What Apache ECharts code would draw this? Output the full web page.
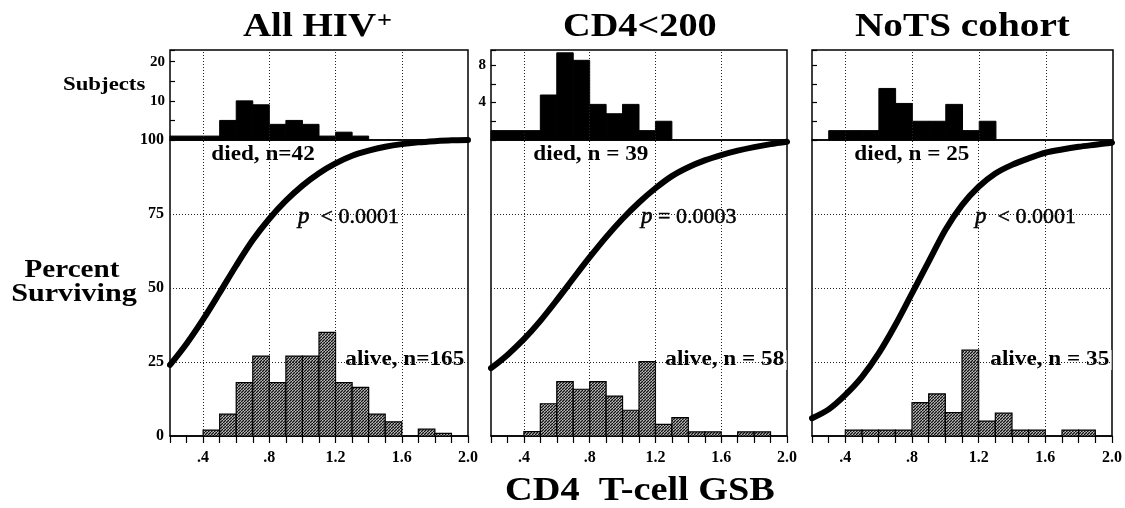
<!DOCTYPE html>
<html><head><meta charset="utf-8">
<script src="https://cdn.jsdelivr.net/npm/echarts@6/dist/echarts.min.js"></script>
<style>html,body{margin:0;padding:0;background:#fff}#c{width:1125px;height:508px}</style>
</head><body><div id="c"></div>
<script>
// ---- data ----
const panelTitles = ['All HIV', 'CD4<200', 'NoTS cohort'];
const binStarts = [0.2,0.3,0.4,0.5,0.6,0.7,0.8,0.9,1.0,1.1,1.2,1.3,1.4,1.5,1.6,1.7,1.8,1.9];
const binWidth = 0.1;
// died (top histograms, subjects)
const diedAll   = [1,1,1,5,10,9,4,5,4,1,2,1,0,0,0,0,0,0];
const diedCD4   = [1,1,1,4.8,9.3,8.5,3.8,2.8,3.8,1,2,0,0,0,0,0,0,0];
const diedNoTS  = [0,1,1,1,5.5,3.9,2,2,3.8,1,2,0,0,0,0,0,0,0];
// alive (bottom histograms, drawn on percent axis)
const aliveAll  = [0,0,2,7.4,18,27,18,27,27,35,18,16.4,7.4,4.8,0,2.3,0.9,0];
const aliveCD4  = [0,0,1.5,10.9,18.4,15.8,18.4,13.5,8.7,25.1,3.9,6.2,1.4,1.4,0,1.4,1.4,0];
const aliveNoTS = [0,0,2,2,2,2,11.3,14.2,7.9,29,5,7.7,2,2,0,2,2,0];
// survival curves (percent surviving vs CD4 T-cell GSB)
const curveX    = [0.2,0.3,0.4,0.5,0.6,0.7,0.8,0.9,1.0,1.1,1.2,1.3,1.4,1.5,1.6,1.7,1.8,1.9,2.0];
const survAll   = [24,31.2,39.4,48.4,57.6,66.2,73.4,79.5,84.6,88.8,92.1,94.7,96.4,97.7,98.6,99.2,99.6,99.9,100];
const survCD4   = [22.9,27.4,32.7,38.9,45.9,53.2,60.4,67.2,73.4,78.9,83.7,87.8,90.8,93.1,94.9,96.4,97.6,98.6,99.4];
const survNoTS  = [6,9,13.9,20,27.9,37.5,48.2,58.9,69.6,78,84.2,88.7,91.6,93.8,95.7,96.8,97.7,98.4,99.1];
// tick labels
const xTickLabels = ['.4','.8','1.2','1.6','2.0'];
const pctTickLabels = ['0','25','50','75','100'];
const subjTickLabelsAll = ['10','20'];
const subjTickLabelsCD4 = ['4','8'];
const annDied  = ['died, n=42', 'died, n = 39', 'died, n = 25'];
const annP     = [['p','  < 0.0001'], ['p',' = 0.0003'], ['p','  < 0.0001']];
const annAlive = ['alive, n=165', 'alive, n = 58', 'alive, n = 35'];

// ---- layout ----
const FONT = '"Liberation Serif", serif';
const L = [170, 491, 812], W = [298, 296, 301];
const TOP = 50, TOPH = 90, MTOP = 140, MH = 296;
const topMax = [23, 9.6, 9.6], topInt = [5, 2, 2];
const topLabels = [subjTickLabelsAll, subjTickLabelsCD4, []];
const died = [diedAll, diedCD4, diedNoTS];
const alive = [aliveAll, aliveCD4, aliveNoTS];
const surv = [survAll, survCD4, survNoTS];

// halftone pattern for the 'alive' bars
const pc = document.createElement('canvas'); pc.width = 3; pc.height = 3;
(function(){ const g = pc.getContext('2d'); g.fillStyle = '#777'; g.fillRect(0,0,3,3);
  g.fillStyle = '#111'; g.fillRect(0,0,1,1); g.fillRect(2,1,1,1); g.fillRect(1,2,1,1);
  g.fillStyle = '#bbb'; g.fillRect(1,0,1,1); g.fillRect(0,2,1,1); })();
const halftone = {image: pc, repeat: 'repeat'};

function bins(counts){
  const out=[];
  counts.forEach((c,i)=>{ if(c>0) out.push([binStarts[i], +(binStarts[i]+binWidth).toFixed(2), c]); });
  return out;
}
function rectRender(fill, stroke, lw){
  return function(params, api){
    const a = api.coord([api.value(0), api.value(2)]);
    const b = api.coord([api.value(1), 0]);
    return {type:'rect', shape:{x:a[0], y:a[1], width:b[0]-a[0], height:b[1]-a[1]},
      style:{fill:fill, stroke:stroke, lineWidth:lw}};
  };
}
const gridStyle = {color:'#222', width:1, type:[1,2]};

const grid=[], xAxis=[], yAxis=[], series=[];
for(let i=0;i<3;i++){
  grid.push({left:L[i], width:W[i], top:TOP, height:TOPH, show:true, borderColor:'#000', borderWidth:1.5, backgroundColor:'transparent'});
  grid.push({left:L[i], width:W[i], top:MTOP, height:MH, show:true, borderColor:'#000', borderWidth:1.5, backgroundColor:'transparent'});
  xAxis.push({gridIndex:2*i, type:'value', min:0.2, max:2.0, axisLine:{show:false}, axisTick:{show:false}, axisLabel:{show:false}, splitLine:{show:false}});
  xAxis.push({gridIndex:2*i+1, type:'value', min:0.2, max:2.0, interval:0.1,
    axisLine:{show:true, onZero:false, lineStyle:{color:'#000', width:1.5}},
    axisTick:{show:true, length:7, lineStyle:{color:'#000', width:1.2}},
    axisLabel:{show:true, margin:14, hideOverlap:false, showMinLabel:true, showMaxLabel:true,
      color:'#000', fontFamily:FONT, fontWeight:'bold', fontSize:16,
      formatter:function(v){ const k=Math.round(v*10); return (k%4===0 && k>=4) ? xTickLabels[k/4-1] : ''; }},
    splitLine:{show:false}});
  const tl = topLabels[i];
  yAxis.push({gridIndex:2*i, type:'value', min:0, max:topMax[i], interval:topInt[i],
    axisLine:{show:false}, axisTick:{show:true, inside:true, length:5, lineStyle:{color:'#000', width:1.2}},
    axisLabel:{show:tl.length>0, margin:5, color:'#000', fontFamily:FONT, fontWeight:'bold', fontSize:15, hideOverlap:false,
      formatter:function(v){ const s=String(Math.round(v*10)/10); return tl.indexOf(s)>=0 ? s : ''; }},
    splitLine:{show:false}});
  yAxis.push({gridIndex:2*i+1, type:'value', min:0, max:100, interval:25,
    axisLine:{show:false}, axisTick:{show:false},
    axisLabel:{show:i===0, margin:6, color:'#000', fontFamily:FONT, fontWeight:'bold', fontSize:16,
      formatter:function(v){ const s=String(Math.round(v)); return pctTickLabels.indexOf(s)>=0 ? s : ''; }},
    splitLine:{show:false}});
  series.push({type:'line', xAxisIndex:2*i, yAxisIndex:2*i, data:[], z:1, silent:true,
    markLine:{silent:true, symbol:'none', label:{show:false}, lineStyle:gridStyle, animation:false,
      data:[{xAxis:0.4},{xAxis:0.8},{xAxis:1.2},{xAxis:1.6}]}});
  series.push({type:'line', xAxisIndex:2*i+1, yAxisIndex:2*i+1, data:[], z:1, silent:true,
    markLine:{silent:true, symbol:'none', label:{show:false}, lineStyle:gridStyle, animation:false,
      data:[{xAxis:0.4},{xAxis:0.8},{xAxis:1.2},{xAxis:1.6},{yAxis:25},{yAxis:50},{yAxis:75}]}});
  series.push({type:'custom', xAxisIndex:2*i, yAxisIndex:2*i, z:3, data:bins(died[i]),
    renderItem:rectRender('#000','#000',1), animation:false});
  series.push({type:'custom', xAxisIndex:2*i+1, yAxisIndex:2*i+1, z:3, data:bins(alive[i]),
    renderItem:rectRender(halftone,'#000',1.2), animation:false});
  series.push({type:'line', xAxisIndex:2*i+1, yAxisIndex:2*i+1, z:5, smooth:0.3,
    symbol:'none', clip:false, lineStyle:{color:'#000', width:6, cap:'round', join:'round'},
    data:curveX.map((x,k)=>[x, surv[i][k]]), animation:false});
}

function txt(text, x, y, size, opts){
  opts = opts||{};
  return {type:'text', x:x, y:y, z:opts.z||100, scaleX:opts.sx||1, scaleY:1,
    style:Object.assign({text:text, fill:'#000', fontFamily:FONT, fontWeight:opts.w||'bold', fontSize:size,
      textAlign:opts.align||'left', textVerticalAlign:'middle', verticalAlign:'middle'}, opts.style||{})};
}
const graphics = [];
graphics.push(txt(panelTitles[0], 243, 27, 33, {sx:1.18}));
graphics.push(txt('+', 377, 21, 24, {sx:1.1}));
graphics.push(txt(panelTitles[1], 563, 27, 33, {sx:1.16}));
graphics.push(txt(panelTitles[2], 855, 27, 33, {sx:1.19}));
graphics.push(txt('Subjects', 63, 85, 19, {sx:1.2}));
graphics.push(txt('Percent', 72, 270, 26, {sx:1.12, align:'center'}));
graphics.push(txt('Surviving', 74, 294, 26, {sx:1.16, align:'center'}));
graphics.push(txt('CD4  T-cell GSB', 640, 491, 33, {sx:1.16, align:'center'}));
const diedX = [209, 531, 852], pX = [296, 639, 973], aliveX = [343, 663, 988];
for(let i=0;i<3;i++){
  graphics.push(txt(annDied[i], diedX[i], 155, 20, {sx:1.16, z:2, style:{backgroundColor:'#fff', padding:[0,2]}}));
  graphics.push({type:'text', x:pX[i], y:217, z:2,
    style:{text:'{i|'+annP[i][0]+'}'+annP[i][1], fill:'#000', stroke:'#000', lineWidth:0.5,
      fontFamily:FONT, fontSize:22, fontWeight:'normal',
      textVerticalAlign:'middle', verticalAlign:'middle', backgroundColor:'#fff', padding:[0,2],
      rich:{i:{fontStyle:'italic', fontFamily:FONT, fontSize:23, fontWeight:'normal', fill:'#000', stroke:'#000', lineWidth:0.5}}}});
  graphics.push(txt(annAlive[i], aliveX[i], 360, 20, {sx:1.16, z:2, style:{backgroundColor:'#fff', padding:[0,2]}}));
}

const chart = echarts.init(document.getElementById('c'), null, {renderer:'canvas'});
chart.setOption({animation:false, backgroundColor:'#fff', grid:grid, xAxis:xAxis, yAxis:yAxis, series:series, graphic:{elements:graphics}});
</script>
</body></html>
